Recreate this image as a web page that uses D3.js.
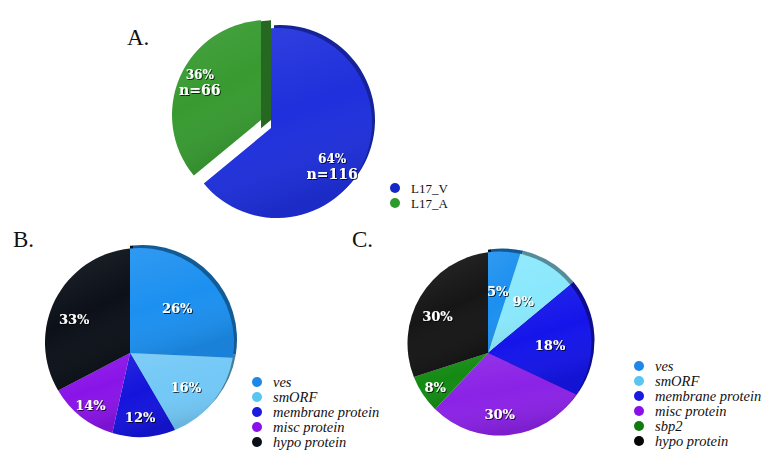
<!DOCTYPE html>
<html>
<head>
<meta charset="utf-8">
<script src="https://cdn.jsdelivr.net/npm/d3@7"></script>
<style>
  html, body { margin: 0; padding: 0; background: #ffffff; }
  svg { display: block; }
</style>
</head>
<body>
<svg id="chart" width="772" height="473"></svg>
<script>
// ---------------- DATA ----------------
const aCategories = ["L17_V", "L17_A"];
const aValues = [64, 36];
const aCounts = [116, 66];
const aColors = ["#1f30dc", "#389a31"];
const aLegendColors = ["#1528c6", "#2e9a2e"];

const bCategories = ["ves", "smORF", "membrane protein", "misc protein", "hypo protein"];
const bValues = [26, 16, 12, 14, 33];
const bColors = ["#1c90f0", "#72c8f6", "#1414dc", "#8a14e8", "#0c1119"];
const bLegendColors = ["#1e88e8", "#58c6ef", "#1a1ae0", "#8a10ea", "#0a0f18"];

const cCategories = ["ves", "smORF", "membrane protein", "misc protein", "sbp2", "hypo protein"];
const cValues = [5, 9, 18, 30, 8, 30];
const cColors = ["#1c90f0", "#8ae8fc", "#1515ea", "#8b22e6", "#138a13", "#161616"];
const cLegendColors = ["#1e88e8", "#58c6ef", "#1a1ae0", "#8a10ea", "#0f7a0f", "#050505"];

const panelTitles = ["A.", "B.", "C."];

// ---------------- DRAWING ----------------
const svg = d3.select("#chart");
svg.append("rect").attr("width", 772).attr("height", 473).attr("fill", "#ffffff");
const defs = svg.append("defs");

const shadow = defs.append("filter").attr("id", "tshadow")
  .attr("x", "-20%").attr("y", "-20%").attr("width", "140%").attr("height", "140%");
shadow.append("feDropShadow").attr("dx", 1).attr("dy", 1)
  .attr("stdDeviation", 0.7).attr("flood-color", "#000").attr("flood-opacity", 0.75);

const shade = defs.append("linearGradient").attr("id", "shade")
  .attr("x1", 0).attr("y1", 0).attr("x2", 0.3).attr("y2", 1);
shade.append("stop").attr("offset", "0%").attr("stop-color", "#fff").attr("stop-opacity", 0.09);
shade.append("stop").attr("offset", "55%").attr("stop-color", "#fff").attr("stop-opacity", 0);
shade.append("stop").attr("offset", "100%").attr("stop-color", "#000").attr("stop-opacity", 0.10);

const pie = d3.pie().sort(null).value(d => d);

// wedge whose apex V is offset from circle centre C (perspective look)
function wedgePath(V, C, r, a0, a1) {
  function hit(a) {
    const dx = Math.sin(a), dy = -Math.cos(a);
    const wx = V.x - C.x, wy = V.y - C.y;
    const b = wx * dx + wy * dy;
    const c = wx * wx + wy * wy - r * r;
    const t = -b + Math.sqrt(b * b - c);
    return [V.x + t * dx, V.y + t * dy];
  }
  const p0 = hit(a0), p1 = hit(a1);
  const phi0 = Math.atan2(p0[1] - C.y, p0[0] - C.x);
  let phi1 = Math.atan2(p1[1] - C.y, p1[0] - C.x);
  while (phi1 <= phi0) phi1 += 2 * Math.PI;
  const p = d3.path();
  p.moveTo(V.x, V.y);
  p.lineTo(p0[0], p0[1]);
  p.arc(C.x, C.y, r, phi0, phi1, false);
  p.closePath();
  return p.toString();
}

function drawPie(cfg) {
  const arcs = pie(cfg.values);
  const total = d3.sum(cfg.values);
  const g = svg.append("g");
  const clipId = "clip" + cfg.id;
  defs.append("clipPath").attr("id", clipId)
    .append("rect").attr("x", cfg.V.x).attr("y", 0).attr("width", 772).attr("height", 473);

  // 3D rim (side) on the upper right
  const sideG = g.append("g").attr("clip-path", `url(#${clipId})`);
  arcs.forEach((a, i) => {
    if (cfg.explode && cfg.explode[i]) return;
    sideG.append("path")
      .attr("d", wedgePath(cfg.V, cfg.C, cfg.r, a.startAngle, a.endAngle))
      .attr("transform", `translate(${cfg.side[0]},${cfg.side[1]})`)
      .attr("fill", d3.color(cfg.colors[i]).darker(cfg.sideDark));
  });

  arcs.forEach((a, i) => {
    const e = (cfg.explode && cfg.explode[i]) || [0, 0];
    const d = wedgePath(cfg.V, cfg.C, cfg.r, a.startAngle, a.endAngle);
    if (cfg.explode && cfg.explode[i]) {
      const cid = "clipx" + cfg.id + i;
      defs.append("clipPath").attr("id", cid)
        .append("rect").attr("x", cfg.V.x + e[0]).attr("y", 0).attr("width", 772).attr("height", 473);
      g.append("path").attr("d", d)
        .attr("clip-path", `url(#${cid})`)
        .attr("transform", `translate(${e[0] + cfg.bandWidth},${e[1]})`)
        .attr("fill", d3.color(cfg.colors[i]).darker(1.1));
    }
    g.append("path").attr("d", d)
      .attr("transform", `translate(${e[0]},${e[1]})`)
      .attr("fill", cfg.colors[i]);
    g.append("path").attr("d", d)
      .attr("transform", `translate(${e[0]},${e[1]})`)
      .attr("fill", "url(#shade)");
  });

  // labels
  arcs.forEach((a, i) => {
    const e = (cfg.explode && cfg.explode[i]) || [0, 0];
    const m = (a.startAngle + a.endAngle) / 2 + (cfg.labelTurn || 0);
    const rr = cfg.r * cfg.labelK;
    const x = cfg.V.x + e[0] + rr * Math.sin(m);
    const y = cfg.V.y + e[1] - rr * Math.cos(m);
    const pct = Math.round(cfg.values[i] / total * 100 * (total > 100 ? total / 100 : 1)) + "%";
    const t = g.append("text")
      .attr("x", x).attr("y", y)
      .attr("text-anchor", "middle")
      .attr("fill", "#ffffff")
      .attr("font-family", "'DejaVu Serif', serif")
      .attr("font-weight", "bold")
      .attr("filter", "url(#tshadow)");
    if (cfg.counts) {
      t.append("tspan").attr("x", x).attr("dy", -3).attr("font-size", 12).text(pct);
      t.append("tspan").attr("x", x).attr("dy", 16).attr("font-size", 14).text("n=" + cfg.counts[i]);
    } else {
      t.attr("dy", 5).attr("font-size", 13).text(pct);
    }
  });
}

function drawLegend(x, y0, step, cats, colors, italic, size) {
  const lg = svg.append("g");
  cats.forEach((c, i) => {
    const y = y0 + i * step;
    lg.append("circle").attr("cx", x).attr("cy", y).attr("r", 5).attr("fill", colors[i]);
    lg.append("text").attr("x", x + 16).attr("y", y + 4.5)
      .attr("font-family", "'Liberation Serif', 'DejaVu Serif', serif")
      .attr("font-style", italic ? "italic" : "normal")
      .attr("font-size", size).attr("fill", "#111").text(c);
  });
}

// titles
[[127, 45], [13, 247], [352, 247]].forEach((p, i) => {
  svg.append("text").attr("x", p[0]).attr("y", p[1])
    .attr("font-family", "'Liberation Serif', serif").attr("font-size", 23)
    .attr("fill", "#111").text(panelTitles[i]);
});

drawPie({ id: "A", values: aValues, counts: aCounts, colors: aColors,
  V: { x: 271, y: 128 }, C: { x: 277, y: 123 }, r: 95,
  side: [3, -3], sideDark: 1.0, explode: [null, [-10, -8]], bandWidth: 10,
  labelK: 0.76, labelTurn: 0.12 });
drawPie({ id: "B", values: bValues, colors: bColors,
  V: { x: 130, y: 353 }, C: { x: 139.5, y: 342.5 }, r: 94.5,
  side: [3, -3], sideDark: 1.3, labelK: 0.69 });
drawPie({ id: "C", values: cValues, colors: cColors,
  V: { x: 488, y: 353 }, C: { x: 499.5, y: 343.5 }, r: 92,
  side: [3, -3], sideDark: 1.4, labelK: 0.68 });

drawLegend(395, 188, 15, aCategories, aLegendColors, false, 13);
drawLegend(257, 382, 15, bCategories, bLegendColors, true, 14.5);
drawLegend(639, 366, 15, cCategories, cLegendColors, true, 14.5);
</script>
</body>
</html>
